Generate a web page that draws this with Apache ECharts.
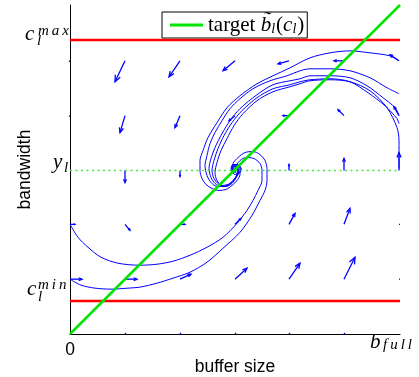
<!DOCTYPE html>
<html>
<head>
<meta charset="utf-8">
<script src="https://cdn.jsdelivr.net/npm/echarts@6/dist/echarts.min.js"></script>
<style>
  html, body { margin: 0; padding: 0; background: #fff; }
  #container { width: 419px; height: 377px; }
</style>
</head>
<body>
<div id="container"></div>
<script>
// units: buffer 0..bFull, bandwidth 0..yTop
var bFull = 330, yTop = 330;
var cMax = 295, cMin = 33, yL = 164;
var targetX = [0, 330], targetY = [0, 330];

var trajA = [[0,110],[8,97],[18,87],[31,77],[48,71],[70,69],[87,70],[103,73],[120,79],[137,87],[153,97],[167,111],[177,124],[183,134],[188,144],[192,154],[192,164],[190,171],[184,176],[176,177],[170,174],[166,169],[165,164],[167,161],[170,162],[171,166],[168,168],[165,166],[166,164]];
var trajB = [[0,55],[11,49],[25,46],[41,45],[58,46],[70,47],[87,51],[103,56],[120,62],[137,72],[153,86],[170,102],[182,119],[190,134],[195,144],[197,154],[197,166],[195,174],[190,180],[183,183],[175,182],[168,177],[163,171],[162,164],[165,160],[169,161],[171,166],[168,170],[164,168],[164,164],[167,164]];
var trajE = [[329,274],[320,279],[300,282],[280,284],[260,282],[240,277],[220,267],[203,259],[187,251],[170,239],[157,227],[147,212],[138,197],[133,184],[130,174],[130,164],[132,156],[136,150],[142,146],[149,144],[156,145],[162,149],[167,154],[170,160],[170,166],[167,170],[163,170],[161,166],[163,162],[166,163]];
var trajF = [[329,241],[317,247],[300,257],[280,264],[260,266],[240,266],[230,264],[217,259],[200,254],[183,246],[170,236],[160,226],[152,214],[145,202],[140,191],[137,179],[135,169],[137,159],[141,152],[147,148],[154,148],[160,151],[165,156],[168,162],[167,168],[164,169],[162,166],[164,163]];
var trajG = [[329,219],[325,227],[313,237],[297,249],[280,257],[260,259],[240,259],[230,256],[220,254],[203,250],[187,240],[170,226],[160,214],[152,201],[145,187],[141,176],[139,166],[141,157],[145,151],[151,148],[158,149],[164,154],[168,160],[169,166],[166,170],[162,168],[163,164],[166,164]];
var trajH = [[329,211],[327,216],[315,229],[298,242],[280,253],[260,256],[240,255],[230,253],[220,250],[203,246],[187,237],[172,224],[162,212],[154,199],[148,186],[144,174],[142,164],[144,156],[149,150],[156,148],[162,151],[166,157],[168,163],[166,168],[163,167],[164,164]];
var trajI = [[329,166],[329,184],[329,194],[327,207],[317,227],[300,244],[280,253],[260,255],[240,254],[230,251],[220,248],[203,243],[187,234],[173,221],[164,209],[157,196],[151,184],[147,172],[145,162],[147,154],[152,149],[158,150],[163,154],[167,160],[168,166],[165,169],[162,166],[164,163]];

// quiver field: base point and vector
var quiverX = [0,55,110,165,219,274,329,  0,55,110,165,219,274,329,  55,110,219,274,329,  0,55,110,165,219,274,329,  0,55,110,165,219,274,329,  55,110,165,219,274];
var quiverY = [274,274,274,274,274,274,274,  219,219,219,219,219,219,219,  164,164,164,164,164,  110,110,110,110,110,110,110,  55,55,55,55,55,55,55,  0,0,0,0,0];
var quiverU = [-1,-10,-11,-12,-11,-10,-9,  -1,-5,-5,-6,-6,-6,-5,  0,0,0,0,0,  5,5,5,6,6,6,1,  12,12,11,12,11,11,1,  1,1,1,1,1];
var quiverV = [-1,-21,-16,-10,-3,0,6,  -1,-17,-12,-5,0,6,9,  -12,-6,6,12,18,  0,-6,0,6,11,16,0,  0,0,5,11,16,22,0,  1,1,1,1,1];

// math tick labels
var tickMain = ['c', 'y', 'c', 'b'];
var tickSup = ['m\u2009a\u2009x', '', 'm\u2009i\u2009n', ''];
var tickSub = ['l', 'l', 'l', 'f\u2009u\u2009l\u2009l'];
var tickX = [0, 0, 0, 330];
var tickY = [295, 164, 33, 0];

var dom = document.getElementById("container");
var myChart = echarts.init(dom, null, { renderer: 'canvas' });

var serif = "'Liberation Serif', 'DejaVu Serif', serif";
var sans = "'Liberation Sans', Arial, sans-serif";
var blue = '#0000ff';

// pixel layout of each math label relative to its anchor
var labelLayout = [
    { main: [-45, -5], sup: [-32, -9], sub: [-33, 1] },
    { main: [-17, -8], sup: [0, 0], sub: [-6, -2] },
    { main: [-43, -12], sup: [-32, -16], sub: [-32, -4] },
    { main: [-30, 8], sup: [0, 0], sub: [-17, 11] }
];

function renderArrow(params, api) {
    var x = api.value(0), y = api.value(1), u = api.value(2), v = api.value(3);
    var p0 = api.coord([x, y]);
    var p1 = api.coord([x + u, y + v]);
    var dx = p1[0] - p0[0], dy = p1[1] - p0[1];
    var len = Math.sqrt(dx * dx + dy * dy);
    var kids = [{
        type: 'line',
        shape: { x1: p0[0], y1: p0[1], x2: p1[0], y2: p1[1] },
        style: { stroke: blue, lineWidth: 1.3 }
    }];
    if (len > 4) {
        var ang = Math.atan2(dy, dx), h = len * 0.3, a = 0.4;
        kids.push({
            type: 'polyline',
            shape: { points: [
                [p1[0] - h * Math.cos(ang - a), p1[1] - h * Math.sin(ang - a)],
                [p1[0], p1[1]],
                [p1[0] - h * Math.cos(ang + a), p1[1] - h * Math.sin(ang + a)]
            ] },
            style: { stroke: blue, fill: null, lineWidth: 1.3 }
        });
    }
    return { type: 'group', children: kids };
}

function renderLabel(params, api) {
    var i = params.dataIndex;
    var p = api.coord([api.value(0), api.value(1)]);
    var lay = labelLayout[i];
    var kids = [{
        type: 'text',
        x: p[0] + lay.main[0], y: p[1] + lay.main[1],
        style: { text: tickMain[i], font: 'italic 21px ' + serif, fill: '#000', verticalAlign: 'middle' }
    }];
    if (tickSup[i]) {
        kids.push({
            type: 'text',
            x: p[0] + lay.sup[0], y: p[1] + lay.sup[1],
            style: { text: tickSup[i], font: 'italic 15px ' + serif, fill: '#000', verticalAlign: 'middle' }
        });
    }
    kids.push({
        type: 'text',
        x: p[0] + lay.sub[0], y: p[1] + lay.sub[1],
        style: { text: tickSub[i], font: 'italic 15px ' + serif, fill: '#000', verticalAlign: 'middle' }
    });
    return { type: 'group', children: kids };
}

function hLine(yv) {
    return [[0, yv], [bFull, yv]];
}

function trajSeries(pts) {
    return {
        type: 'line', data: pts, showSymbol: false, symbol: 'none', smooth: 0.3,
        lineStyle: { color: blue, width: 1 }, silent: true, z: 3
    };
}

var option = {
    animation: false,
    grid: { left: 70, right: 19, top: 5, bottom: 43, outerBoundsMode: 'none', containLabel: false },
    legend: {
        data: ['target'],
        left: 162, top: 12,
        padding: [2, 3, 2, 8],
        itemWidth: 33, itemHeight: 3, icon: 'rect',
        backgroundColor: '#fff', borderColor: '#000', borderWidth: 1,
        selectedMode: false,
        formatter: function () {
            return '{r|target }{i|b\u0303}{s|l}{r|(}{i|c}{s|l}{r|)}';
        },
        textStyle: {
            rich: {
                r: { fontFamily: serif, fontSize: 21, lineHeight: 22, color: '#000' },
                i: { fontFamily: serif, fontStyle: 'italic', fontSize: 21, lineHeight: 22, color: '#000' },
                s: { fontFamily: serif, fontStyle: 'italic', fontSize: 14, lineHeight: 22, color: '#000', padding: [8, 1, 0, 0] }
            }
        }
    },
    xAxis: {
        type: 'value', min: 0, max: bFull, interval: bFull,
        name: 'buffer size', nameLocation: 'middle', nameGap: 24, nameMoveOverlap: false,
        nameTextStyle: { fontFamily: sans, fontSize: 17.5, color: '#000' },
        axisLine: { lineStyle: { color: '#000', width: 1 } },
        axisTick: { show: false },
        splitLine: { show: false },
        axisLabel: {
            margin: 7, fontFamily: sans, fontSize: 17.5, color: '#000',
            formatter: function (v) { return v === 0 ? '0' : ''; }
        }
    },
    yAxis: {
        type: 'value', min: 0, max: yTop,
        name: 'bandwidth', nameLocation: 'middle', nameGap: 36, nameMoveOverlap: false,
        nameTextStyle: { fontFamily: sans, fontSize: 17.5, color: '#000' },
        axisLine: { show: true, lineStyle: { color: '#000', width: 1 } },
        axisTick: { show: false },
        splitLine: { show: false },
        axisLabel: { show: false }
    },
    series: [
        {
            type: 'custom', name: 'field', renderItem: renderArrow, silent: true, z: 2,
            encode: { x: 0, y: 1 },
            data: quiverX.map(function (x, i) { return [x, quiverY[i], quiverU[i], quiverV[i]]; })
        },
        trajSeries(trajA), trajSeries(trajB), trajSeries(trajE), trajSeries(trajF),
        trajSeries(trajG), trajSeries(trajH), trajSeries(trajI),
        {
            type: 'line', name: 'cmax', data: hLine(cMax), symbol: 'none', silent: true, z: 4,
            lineStyle: { color: '#ff0000', width: 2.5 }
        },
        {
            type: 'line', name: 'cmin', data: hLine(cMin), symbol: 'none', silent: true, z: 4,
            lineStyle: { color: '#ff0000', width: 2.5 }
        },
        {
            type: 'line', name: 'yl', data: hLine(yL), symbol: 'none', silent: true, z: 4,
            lineStyle: { color: '#44e044', width: 1.6, type: [2, 3.5] }
        },
        {
            type: 'line', name: 'target', symbol: 'none', silent: true, z: 5,
            color: '#00e600',
            data: targetX.map(function (x, i) { return [x, targetY[i]]; }),
            lineStyle: { color: '#00e600', width: 2.5 }
        },
        {
            type: 'custom', name: 'ticklabels', renderItem: renderLabel, silent: true, clip: false, z: 6,
            encode: { x: 0, y: 1 },
            data: tickX.map(function (x, i) { return [x, tickY[i]]; })
        }
    ]
};

myChart.setOption(option, true);
</script>
</body>
</html>
